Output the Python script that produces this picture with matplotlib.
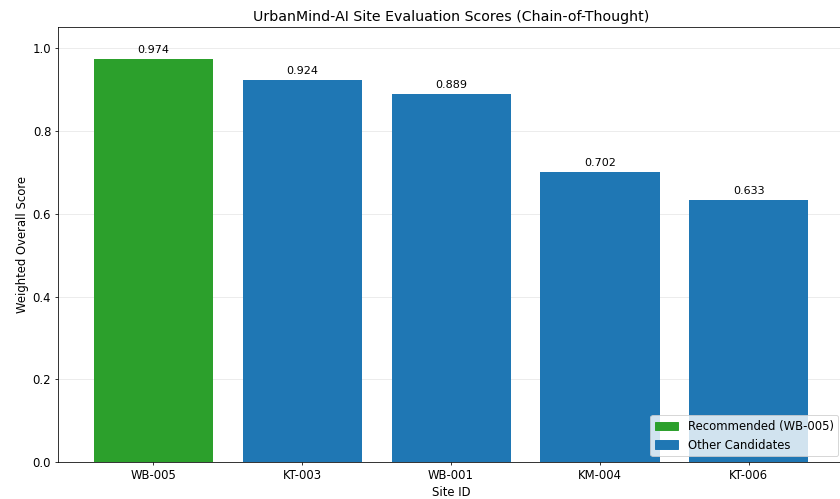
import matplotlib.pyplot as plt
from matplotlib.patches import Patch

sites = ['WB-005', 'KT-003', 'WB-001', 'KM-004', 'KT-006']
scores = [0.974, 0.924, 0.889, 0.702, 0.633]
recommended = 'WB-005'

colors = ['#2ca02c' if s == recommended else '#1f77b4' for s in sites]

fig, ax = plt.subplots(figsize=(12, 7.13), dpi=70)
bars = ax.bar(sites, scores, color=colors)

# value labels above each bar
for bar, score in zip(bars, scores):
    ax.text(bar.get_x() + bar.get_width() / 2, bar.get_height() + 0.01,
            f'{score:.3f}', ha='center', va='bottom', fontsize=11.5)

ax.set_ylim(0, max(scores) * 1.08)
ax.set_title('UrbanMind-AI Site Evaluation Scores (Chain-of-Thought)', fontsize=14.5)
ax.set_xlabel('Site ID', fontsize=12)
ax.set_ylabel('Weighted Overall Score', fontsize=12)
ax.tick_params(labelsize=12)
ax.grid(axis='y', alpha=0.3)
ax.set_axisbelow(True)

handles = [Patch(color='#2ca02c', label=f'Recommended ({recommended})'),
           Patch(color='#1f77b4', label='Other Candidates')]
ax.legend(handles=handles, loc='lower right', fontsize=12)

fig.subplots_adjust(left=0.069, right=1.005, top=0.946, bottom=0.074)
fig.savefig('out.png')
